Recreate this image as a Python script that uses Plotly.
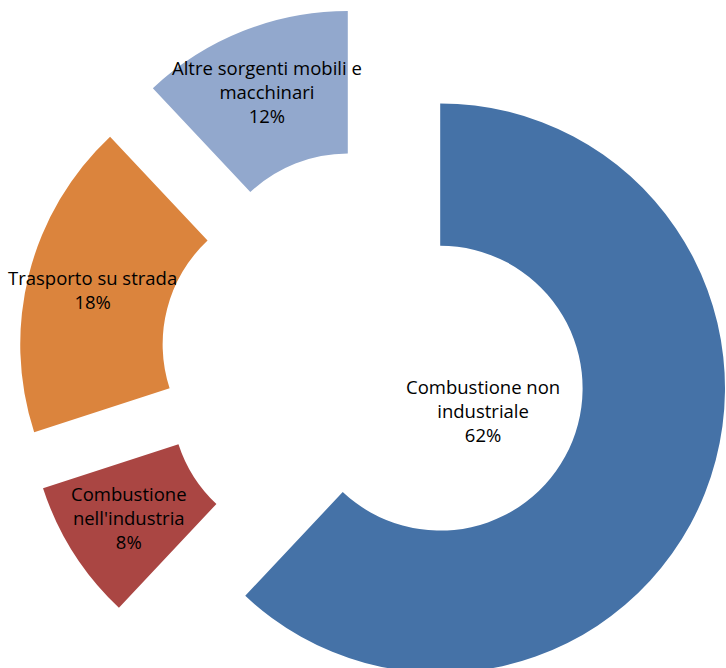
import math
import plotly.graph_objects as go

# Emission sources and their share of the total (%)
sources = [
    "Combustione non industriale",
    "Combustione nell'industria",
    "Trasporto su strada",
    "Altre sorgenti mobili e macchinari",
]
label_lines = [
    "Combustione non<br>industriale",
    "Combustione<br>nell'industria",
    "Trasporto su strada",
    "Altre sorgenti mobili e<br>macchinari",
]
shares = [62, 8, 18, 12]
colors = ["#4572A7", "#AA4643", "#DB843D", "#92A8CD"]

# Figure geometry (pixels)
W, H = 730, 720
CX, CY = 374, 362          # centre of the ring before the slices are pulled out
BOX = 712                  # side of the square box the pie is fitted into
PULL = 0.25                # every slice is exploded by a quarter of the radius
HOLE = 0.5
R = BOX / (2 + 2 * PULL)   # outer radius plotly ends up using

dom_x = [max(0.0, (CX - BOX / 2) / W), min(1.0, (CX + BOX / 2) / W)]
dom_y = [max(0.0, 1 - (CY + BOX / 2) / H), min(1.0, 1 - (CY - BOX / 2) / H)]

fig = go.Figure(
    go.Pie(
        labels=sources,
        values=shares,
        sort=False,
        direction="clockwise",
        rotation=0,
        hole=HOLE,
        pull=[PULL] * len(shares),
        marker=dict(colors=colors, line=dict(width=0)),
        textinfo="none",
        hoverinfo="label+percent",
        domain=dict(x=dom_x, y=dom_y),
        showlegend=False,
    )
)

# Data labels: placed along each slice's bisector, near the centroid of the
# ring sector; the large slice carries its label near the inner edge.
total = sum(shares)
annotations = []
start = 0.0
for i, (text, v) in enumerate(zip(label_lines, shares)):
    mid = (start + v / 2) / total * 2 * math.pi
    start += v
    dx, dy = math.sin(mid), -math.cos(mid)
    px = CX + PULL * R * dx
    py = CY + PULL * R * dy
    if i == 0:
        px += 0.15 * R
        py += 0.08 * R
    else:
        rho = R * 0.77
        px += rho * dx
        py += rho * dy
    annotations.append(
        dict(
            x=px / W,
            y=1 - py / H,
            xref="paper",
            yref="paper",
            text=f"{text}<br>{v}%",
            showarrow=False,
            xanchor="center",
            yanchor="middle",
            align="center",
            font=dict(family="Open Sans", size=18.5, color="#000000"),
        )
    )

fig.update_layout(
    width=W,
    height=H,
    margin=dict(l=0, r=0, t=0, b=0),
    paper_bgcolor="white",
    plot_bgcolor="white",
    annotations=annotations,
)

fig.write_html("out.html")
